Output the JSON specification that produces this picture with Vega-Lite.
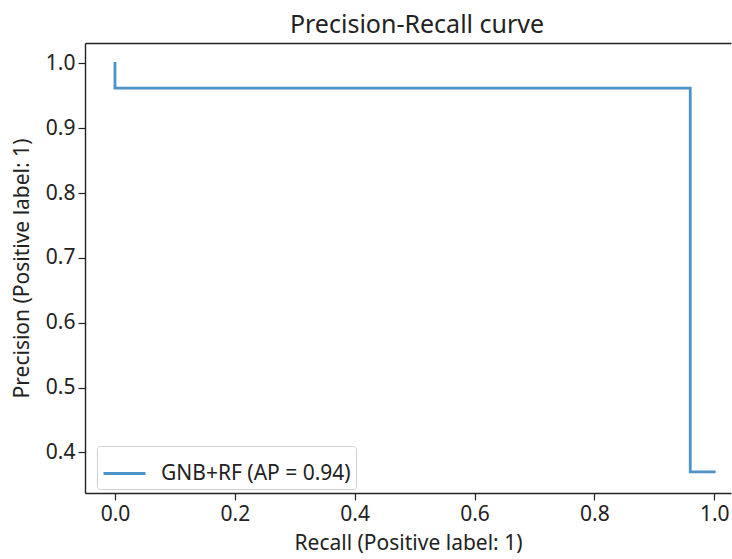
{
  "$schema": "https://vega.github.io/schema/vega-lite/v6.json",
  "width": 646,
  "height": 450,
  "autosize": "none",
  "padding": {"left": 85, "top": 43, "right": 1, "bottom": 66},
  "background": "white",
  "config": {
    "view": {"stroke": null},
    "font": "Noto Sans",
    "axis": {
      "grid": false,
      "domainColor": "#222",
      "domainWidth": 1.4,
      "tickColor": "#222",
      "tickWidth": 1.2,
      "tickSize": 7,
      "labelFont": "Noto Sans",
      "labelFontSize": 21,
      "labelColor": "#222",
      "titleFont": "Noto Sans",
      "titleFontSize": 21,
      "titleFontWeight": "normal",
      "titleColor": "#222",
      "labelPadding": 3
    }
  },
  "title": {
    "text": "Precision-Recall curve",
    "fontSize": 25,
    "fontWeight": "normal",
    "font": "Noto Sans",
    "color": "#222",
    "offset": 5,
    "dx": 9
  },
  "data": {
    "values": [
      {"order": 1, "recall": 0.0, "precision": 1.0, "series": "GNB+RF (AP = 0.94)"},
      {"order": 2, "recall": 0.0, "precision": 0.962, "series": "GNB+RF (AP = 0.94)"},
      {"order": 3, "recall": 0.96, "precision": 0.962, "series": "GNB+RF (AP = 0.94)"},
      {"order": 4, "recall": 0.96, "precision": 0.37, "series": "GNB+RF (AP = 0.94)"},
      {"order": 5, "recall": 1.0, "precision": 0.37, "series": "GNB+RF (AP = 0.94)"}
    ]
  },
  "layer": [
    {
      "mark": {"type": "line", "strokeWidth": 2.8, "clip": true, "strokeJoin": "miter", "strokeCap": "square"},
      "encoding": {
        "x": {
          "field": "recall", "type": "quantitative",
          "scale": {"domain": [-0.05, 1.028], "nice": false, "zero": false},
          "axis": {"title": "Recall (Positive label: 1)", "values": [0, 0.2, 0.4, 0.6, 0.8, 1.0], "format": ".1f", "titlePadding": 8}
        },
        "y": {
          "field": "precision", "type": "quantitative",
          "scale": {"domain": [0.3375, 1.0316], "nice": false, "zero": false},
          "axis": {"title": "Precision (Positive label: 1)", "values": [0.4, 0.5, 0.6, 0.7, 0.8, 0.9, 1.0], "format": ".1f", "titlePadding": 13}
        },
        "order": {"field": "order", "type": "quantitative"},
        "color": {
          "field": "series", "type": "nominal",
          "scale": {"range": ["#4c93c9"]},
          "legend": {
            "title": null,
            "orient": "none",
            "legendX": 12,
            "legendY": 403,
            "symbolType": "stroke",
            "symbolSize": 1764,
            "symbolStrokeWidth": 2.8,
            "labelFontSize": 21,
            "labelFont": "Noto Sans",
            "labelColor": "#222",
            "labelOffset": 14,
            "labelLimit": 400,
            "strokeColor": "#d0d0d0",
            "fillColor": "white",
            "cornerRadius": 3,
            "padding": 5
          }
        }
      }
    },
    {
      "mark": {"type": "line", "opacity": 0},
      "encoding": {
        "x": {
          "field": "recall", "type": "quantitative",
          "axis": {"orient": "top", "title": null, "labels": false, "ticks": false}
        },
        "y": {"field": "precision", "type": "quantitative"}
      }
    }
  ],
  "resolve": {"axis": {"x": "independent"}}
}
